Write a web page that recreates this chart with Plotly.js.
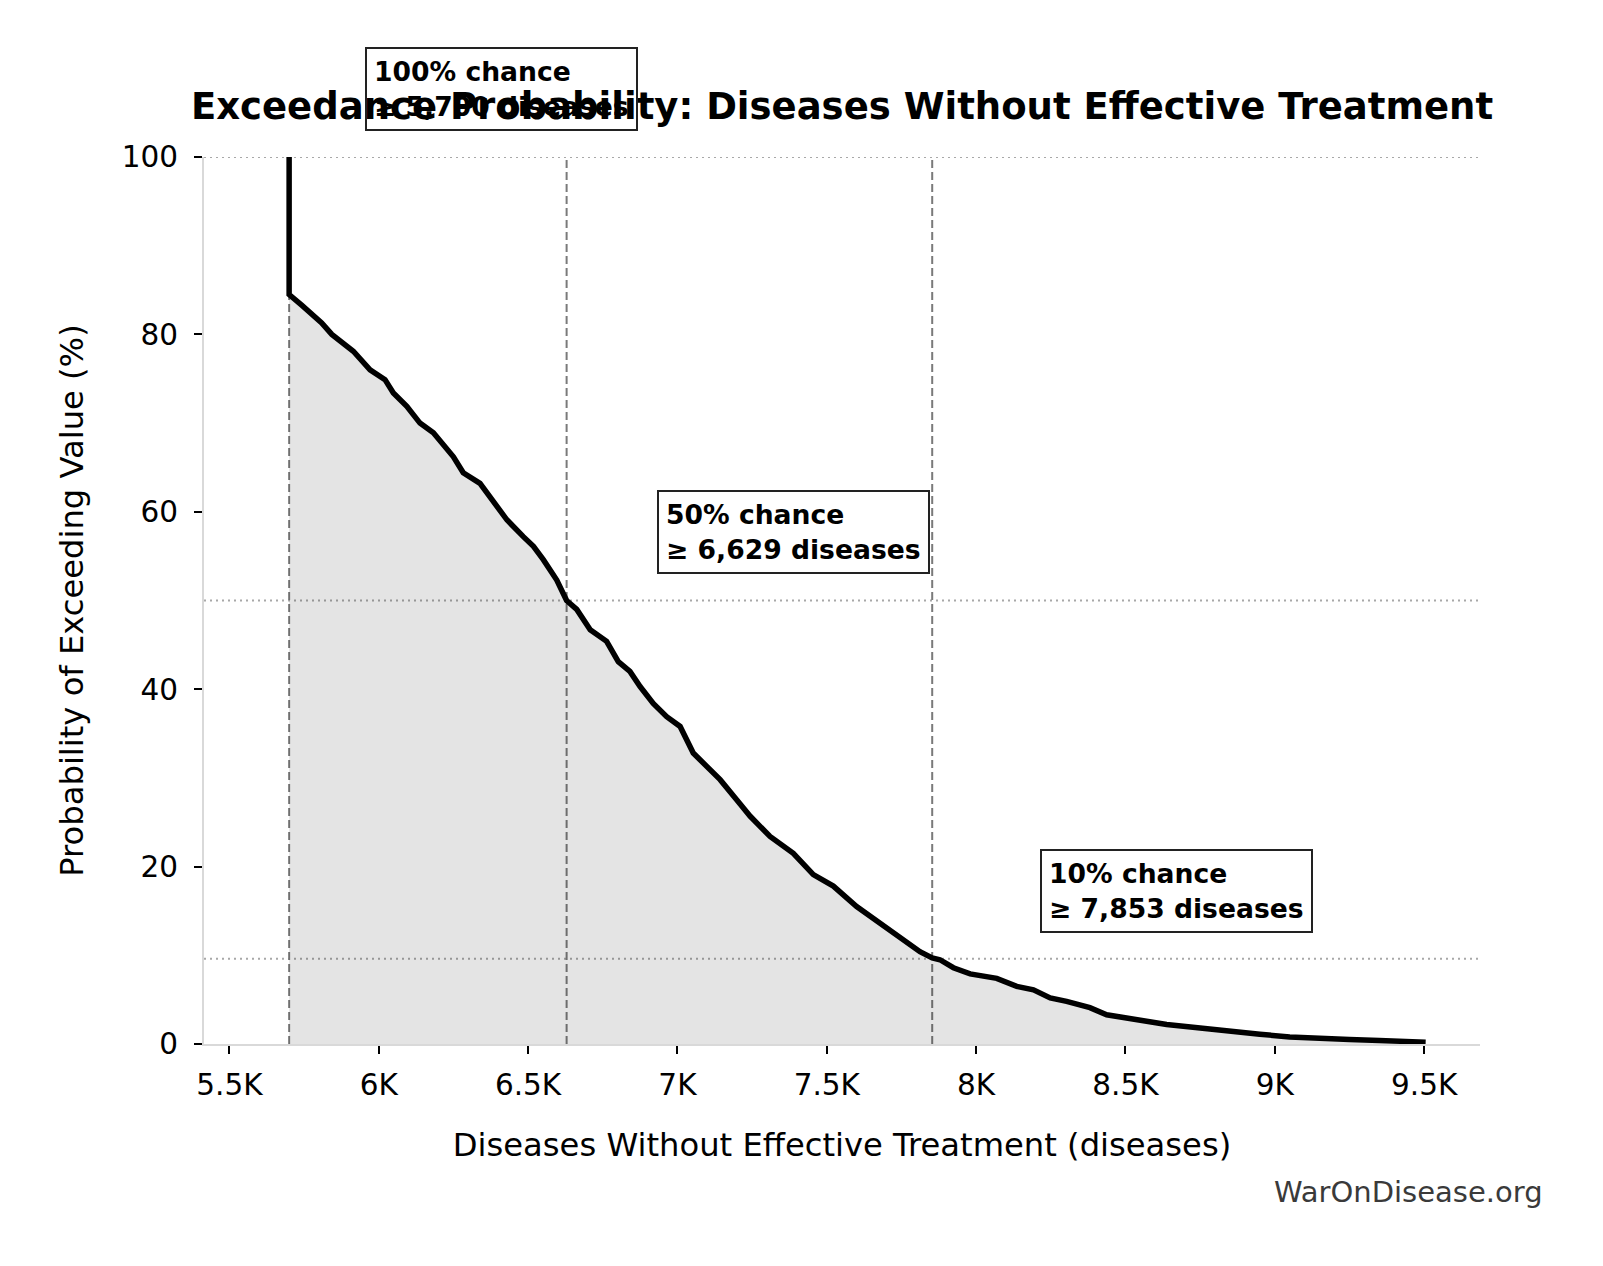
<!DOCTYPE html>
<html>
<head>
<meta charset="utf-8">
<script src="https://cdn.plot.ly/plotly-3.0.1.min.js"></script>
<style>html,body{margin:0;padding:0;background:#fff;}#chart{width:1603px;height:1266px;}</style>
</head>
<body>
<div id="chart"></div>
<script>
// Exceedance curve
const diseaseCounts = [5700, 5700, 5742, 5809, 5843, 5915, 5971, 6021, 6049, 6094, 6138, 6183, 6250, 6283, 6339, 6373, 6429, 6484, 6518, 6551, 6596, 6629, 6663, 6708, 6763, 6802, 6841, 6875, 6919, 6964, 7009, 7053, 7098, 7143, 7199, 7243, 7310, 7388, 7455, 7522, 7600, 7678, 7745, 7812, 7853, 7879, 7924, 7980, 8069, 8136, 8192, 8248, 8303, 8381, 8437, 8527, 8638, 8750, 8850, 8950, 9050, 9150, 9250, 9350, 9450, 9505];
const exceedProb = [100, 84.5, 83.3, 81.3, 80.0, 78.1, 76.0, 74.9, 73.4, 71.9, 70.0, 68.9, 66.2, 64.4, 63.2, 61.7, 59.1, 57.2, 56.1, 54.6, 52.3, 50.0, 49.0, 46.7, 45.4, 43.1, 42.0, 40.3, 38.4, 36.9, 35.8, 32.8, 31.3, 29.8, 27.5, 25.7, 23.4, 21.5, 19.1, 17.8, 15.5, 13.6, 12.1, 10.4, 9.7, 9.5, 8.6, 7.9, 7.4, 6.5, 6.1, 5.2, 4.8, 4.1, 3.3, 2.8, 2.2, 1.8, 1.4, 1.1, 0.8, 0.6, 0.5, 0.4, 0.3, 0.2];

// Marked thresholds
const chancePct = [100, 50, 10];
const thresholdValues = [5700, 6629, 7853];
const thresholdProbs = [100, 50, 9.6];

// Axis ticks
const xTickVals = [5500, 6000, 6500, 7000, 7500, 8000, 8500, 9000, 9500];
const xTickText = ['5.5K', '6K', '6.5K', '7K', '7.5K', '8K', '8.5K', '9K', '9.5K'];
const yTickVals = [0, 20, 40, 60, 80, 100];

const FONT = 'DejaVu Sans, Verdana, sans-serif';
const Y_RANGE = [0, 100];
const X_RANGE = [5415, 9687];

const trace = {
  x: diseaseCounts,
  y: exceedProb,
  type: 'scatter',
  mode: 'lines',
  line: {color: '#000000', width: 5.5},
  fill: 'tozeroy',
  fillcolor: 'rgba(0,0,0,0.105)',
  hoverinfo: 'skip',
  showlegend: false
};

const shapes = [];
thresholdProbs.forEach(p => {
  shapes.push({type: 'line', xref: 'paper', yref: 'y', x0: 0, x1: 1, y0: p, y1: p,
    line: {color: '#a8a8a8', width: 2, dash: '2px,4px'}, layer: 'below'});
});
thresholdValues.forEach(v => {
  shapes.push({type: 'line', xref: 'x', yref: 'paper', x0: v, x1: v, y0: 0, y1: 1,
    line: {color: '#7a7a7a', width: 2, dash: '8px,4px'}, layer: 'below'});
});

const fmt = n => n.toLocaleString('en-US');
// paper-referenced y so the box above the plot area is not hidden
const toPaperY = v => (v - Y_RANGE[0]) / (Y_RANGE[1] - Y_RANGE[0]);
const annotations = thresholdValues.map((v, i) => ({
  xref: 'x', yref: 'paper',
  x: v * 1.05, y: toPaperY(thresholdProbs[i] + 7.7),
  xanchor: 'left', yanchor: 'middle', xshift: -9,
  showarrow: false, align: 'left',
  text: '<b>' + chancePct[i] + '% chance</b><br><b>≥ ' + fmt(v) + ' diseases</b>',
  font: {family: FONT, size: 26.6, color: '#000'},
  bgcolor: 'rgba(255,255,255,0)', bordercolor: '#222', borderwidth: 2, borderpad: 7
}));
annotations.push({
  xref: 'paper', yref: 'paper', x: 1.051, y: -0.1665,
  xanchor: 'right', yanchor: 'middle', showarrow: false,
  text: 'WarOnDisease.org',
  font: {family: FONT, size: 29, color: '#3a3a3a'}
});

const layout = {
  width: 1603, height: 1266,
  margin: {l: 204, r: 123, t: 157, b: 222},
  paper_bgcolor: '#fff', plot_bgcolor: '#fff',
  font: {family: FONT, color: '#000'},
  title: {
    text: '<b>Exceedance Probability: Diseases Without Effective Treatment</b>',
    font: {family: FONT, size: 37, color: '#000'},
    xref: 'paper', x: 0.5, xanchor: 'center',
    yref: 'container', y: 1 - 106 / 1266, yanchor: 'middle'
  },
  xaxis: {
    range: X_RANGE,
    tickvals: xTickVals, ticktext: xTickText,
    ticks: 'outside', ticklen: 8, tickwidth: 2, tickcolor: '#000',
    tickfont: {family: FONT, size: 29.5, color: '#000'},
    ticklabelstandoff: 6,
    showline: true, linecolor: '#d9d9d9', linewidth: 2,
    showgrid: false, zeroline: false,
    title: {text: 'Diseases Without Effective Treatment (diseases)', font: {family: FONT, size: 32.2, color: '#000'}, standoff: 32}
  },
  yaxis: {
    range: Y_RANGE,
    tickvals: yTickVals,
    ticks: 'outside', ticklen: 8, tickwidth: 2, tickcolor: '#000',
    tickfont: {family: FONT, size: 29.5, color: '#000'},
    ticklabelstandoff: 10,
    showline: true, linecolor: '#d9d9d9', linewidth: 2,
    showgrid: false, zeroline: false,
    title: {text: 'Probability of Exceeding Value (%)', font: {family: FONT, size: 32.2, color: '#000'}, standoff: 29}
  },
  shapes: shapes,
  annotations: annotations
};

Plotly.newPlot('chart', [trace], layout, {staticPlot: true, displayModeBar: false});
</script>
</body>
</html>
